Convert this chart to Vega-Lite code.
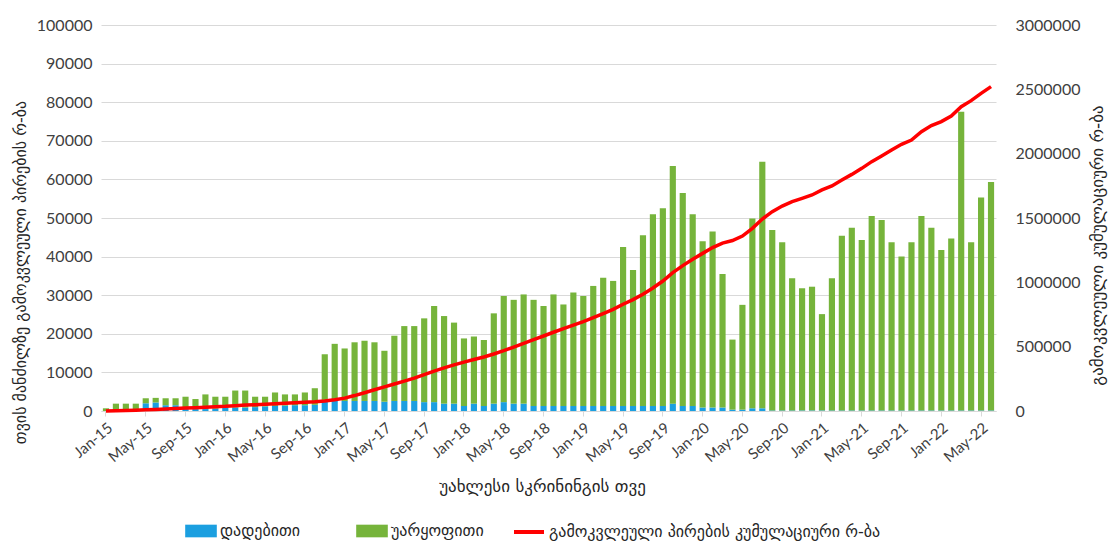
{
  "$schema": "https://vega.github.io/schema/vega-lite/v6.json",
  "width": 895,
  "height": 386,
  "autosize": {"type": "none"},
  "padding": {"left": 101, "top": 25, "right": 114, "bottom": 130},
  "background": "white",
  "config": {
    "view": {"stroke": null},
    "font": "Lato",
    "axis": {"labelFont": "Lato", "labelColor": "#404040", "titleColor": "#262626", "titleFont": "DejaVu Sans", "titleFontWeight": "normal"}
  },
  "data": {"values": [
    {"m":"Jan-15","pos":0,"neg":700,"cum":700},
    {"m":"Feb-15","pos":0,"neg":1900,"cum":2600},
    {"m":"Mar-15","pos":0,"neg":1900,"cum":4500},
    {"m":"Apr-15","pos":0,"neg":1900,"cum":6500},
    {"m":"May-15","pos":2000,"neg":1300,"cum":9500},
    {"m":"Jun-15","pos":2200,"neg":1200,"cum":12500},
    {"m":"Jul-15","pos":1500,"neg":1800,"cum":15500},
    {"m":"Aug-15","pos":1500,"neg":1800,"cum":19000},
    {"m":"Sep-15","pos":800,"neg":2900,"cum":23000},
    {"m":"Oct-15","pos":500,"neg":2600,"cum":26000},
    {"m":"Nov-15","pos":500,"neg":3800,"cum":30000},
    {"m":"Dec-15","pos":600,"neg":3100,"cum":33000},
    {"m":"Jan-16","pos":800,"neg":2900,"cum":36000},
    {"m":"Feb-16","pos":900,"neg":4400,"cum":41000},
    {"m":"Mar-16","pos":900,"neg":4400,"cum":46000},
    {"m":"Apr-16","pos":1000,"neg":2700,"cum":49000},
    {"m":"May-16","pos":1200,"neg":2500,"cum":52000},
    {"m":"Jun-16","pos":1300,"neg":3500,"cum":56000},
    {"m":"Jul-16","pos":1400,"neg":2900,"cum":60000},
    {"m":"Aug-16","pos":1500,"neg":2800,"cum":64000},
    {"m":"Sep-16","pos":1500,"neg":3300,"cum":68000},
    {"m":"Oct-16","pos":1600,"neg":4300,"cum":72000},
    {"m":"Nov-16","pos":2500,"neg":12200,"cum":78000},
    {"m":"Dec-16","pos":2600,"neg":14800,"cum":88000},
    {"m":"Jan-17","pos":2600,"neg":13600,"cum":100000},
    {"m":"Feb-17","pos":2600,"neg":15200,"cum":120000},
    {"m":"Mar-17","pos":2600,"neg":15600,"cum":142000},
    {"m":"Apr-17","pos":2600,"neg":15200,"cum":165000},
    {"m":"May-17","pos":2400,"neg":13200,"cum":188000},
    {"m":"Jun-17","pos":2600,"neg":16900,"cum":210000},
    {"m":"Jul-17","pos":2600,"neg":19400,"cum":232000},
    {"m":"Aug-17","pos":2600,"neg":19400,"cum":255000},
    {"m":"Sep-17","pos":2300,"neg":21700,"cum":282000},
    {"m":"Oct-17","pos":2300,"neg":24900,"cum":310000},
    {"m":"Nov-17","pos":1900,"neg":22700,"cum":335000},
    {"m":"Dec-17","pos":1900,"neg":21000,"cum":358000},
    {"m":"Jan-18","pos":1300,"neg":17500,"cum":380000},
    {"m":"Feb-18","pos":1900,"neg":17400,"cum":400000},
    {"m":"Mar-18","pos":1300,"neg":17100,"cum":420000},
    {"m":"Apr-18","pos":1900,"neg":23400,"cum":443000},
    {"m":"May-18","pos":2300,"neg":27500,"cum":469000},
    {"m":"Jun-18","pos":1900,"neg":26900,"cum":497000},
    {"m":"Jul-18","pos":1900,"neg":28300,"cum":525000},
    {"m":"Aug-18","pos":1300,"neg":27500,"cum":555000},
    {"m":"Sep-18","pos":1300,"neg":25900,"cum":583000},
    {"m":"Oct-18","pos":1300,"neg":28900,"cum":612000},
    {"m":"Nov-18","pos":1300,"neg":26300,"cum":640000},
    {"m":"Dec-18","pos":1300,"neg":29400,"cum":668000},
    {"m":"Jan-19","pos":1300,"neg":28500,"cum":694000},
    {"m":"Feb-19","pos":1300,"neg":31100,"cum":725000},
    {"m":"Mar-19","pos":1300,"neg":33200,"cum":757000},
    {"m":"Apr-19","pos":1300,"neg":32400,"cum":790000},
    {"m":"May-19","pos":1300,"neg":41200,"cum":830000},
    {"m":"Jun-19","pos":1300,"neg":35200,"cum":866000},
    {"m":"Jul-19","pos":1300,"neg":44200,"cum":908000},
    {"m":"Aug-19","pos":1300,"neg":49700,"cum":956000},
    {"m":"Sep-19","pos":1300,"neg":51200,"cum":1010000},
    {"m":"Oct-19","pos":1900,"neg":61600,"cum":1075000},
    {"m":"Nov-19","pos":1300,"neg":55200,"cum":1130000},
    {"m":"Dec-19","pos":1300,"neg":49700,"cum":1180000},
    {"m":"Jan-20","pos":900,"neg":43100,"cum":1225000},
    {"m":"Feb-20","pos":900,"neg":45600,"cum":1270000},
    {"m":"Mar-20","pos":900,"neg":34600,"cum":1305000},
    {"m":"Apr-20","pos":350,"neg":18150,"cum":1325000},
    {"m":"May-20","pos":350,"neg":27150,"cum":1360000},
    {"m":"Jun-20","pos":700,"neg":49200,"cum":1420000},
    {"m":"Jul-20","pos":700,"neg":63900,"cum":1492000},
    {"m":"Aug-20","pos":150,"neg":46750,"cum":1549000},
    {"m":"Sep-20","pos":150,"neg":43550,"cum":1593000},
    {"m":"Oct-20","pos":150,"neg":34250,"cum":1627000},
    {"m":"Nov-20","pos":150,"neg":31650,"cum":1653000},
    {"m":"Dec-20","pos":150,"neg":32050,"cum":1679000},
    {"m":"Jan-21","pos":150,"neg":24950,"cum":1718000},
    {"m":"Feb-21","pos":150,"neg":34250,"cum":1749000},
    {"m":"Mar-21","pos":150,"neg":45250,"cum":1795000},
    {"m":"Apr-21","pos":150,"neg":47350,"cum":1839000},
    {"m":"May-21","pos":150,"neg":44150,"cum":1886000},
    {"m":"Jun-21","pos":150,"neg":50350,"cum":1938000},
    {"m":"Jul-21","pos":150,"neg":49350,"cum":1982000},
    {"m":"Aug-21","pos":150,"neg":43550,"cum":2028000},
    {"m":"Sep-21","pos":150,"neg":39850,"cum":2073000},
    {"m":"Oct-21","pos":150,"neg":43550,"cum":2106000},
    {"m":"Nov-21","pos":150,"neg":50350,"cum":2171000},
    {"m":"Dec-21","pos":150,"neg":47350,"cum":2218000},
    {"m":"Jan-22","pos":150,"neg":41550,"cum":2249000},
    {"m":"Feb-22","pos":150,"neg":44550,"cum":2293000},
    {"m":"Mar-22","pos":150,"neg":77350,"cum":2365000},
    {"m":"Apr-22","pos":150,"neg":43550,"cum":2412000},
    {"m":"May-22","pos":150,"neg":55150,"cum":2469000},
    {"m":"Jun-22","pos":150,"neg":59150,"cum":2521000}
  ]},
  "encoding": {
    "x": {
      "field": "m", "type": "ordinal", "sort": null,
      "scale": {"paddingInner": 0.38, "paddingOuter": 0.19},
      "axis": {
        "values": ["Jan-15","May-15","Sep-15","Jan-16","May-16","Sep-16","Jan-17","May-17","Sep-17","Jan-18","May-18","Sep-18","Jan-19","May-19","Sep-19","Jan-20","May-20","Sep-20","Jan-21","May-21","Sep-21","Jan-22","May-22"],
        "labelAngle": -40, "labelFontSize": 15, "labelPadding": 4,
        "domainColor": "#d9d9d9", "tickColor": "#d9d9d9", "tickSize": 5,
        "title": "უახლესი სკრინინგის თვე", "titleFontSize": 17,
        "titleY": 67, "titleBaseline": "top", "titleX": 441
      }
    }
  },
  "layer": [
    {
      "transform": [{"fold": ["pos", "neg"], "as": ["k", "v"]}],
      "mark": {"type": "bar"},
      "encoding": {
        "y": {
          "field": "v", "type": "quantitative", "stack": "zero",
          "scale": {"domain": [0, 100000], "nice": false},
          "axis": {
            "values": [0,10000,20000,30000,40000,50000,60000,70000,80000,90000,100000],
            "format": "d", "grid": true, "gridColor": "#d9d9d9", "domain": false, "ticks": false,
            "labelFontSize": 16, "labelPadding": 9,
            "title": "თვის მანძილზე გამოკვლეული პირების რ-ბა", "titleFontSize": 16,
            "titleAngle": 270, "titleBaseline": "middle", "titleX": -81, "titleY": 247, "titleLimit": 500
          }
        },
        "fill": {
          "field": "k", "type": "nominal", "sort": ["pos", "neg"],
          "scale": {"domain": ["pos", "neg"], "range": ["#1b9fe0", "#76b43b"]},
          "legend": {
            "orient": "none", "legendX": 84, "legendY": 490, "direction": "horizontal",
            "title": null, "labelFont": "DejaVu Sans", "labelFontSize": 16, "labelColor": "#262626",
            "symbolType": "M-1,-0.4H1V0.4H-1Z", "symbolSize": 1000, "symbolStrokeWidth": 0,
            "columnPadding": 55, "labelOffset": 3, "labelLimit": 500,
            "labelExpr": "datum.label == 'pos' ? 'დადებითი' : 'უარყოფითი'"
          }
        }
      }
    },
    {
      "mark": {"type": "line", "strokeWidth": 3.5},
      "encoding": {
        "y": {
          "field": "cum", "type": "quantitative",
          "scale": {"domain": [0, 3000000], "nice": false},
          "axis": {
            "orient": "right",
            "values": [0,500000,1000000,1500000,2000000,2500000,3000000],
            "format": "d", "grid": false, "domain": false, "ticks": false,
            "labelFontSize": 16, "labelPadding": 19,
            "title": "გამოკვლეული კუმულაციური რ-ბა", "titleFontSize": 17,
            "titleAngle": 270, "titleBaseline": "middle", "titleX": 101, "titleY": 220, "titleLimit": 500
          }
        },
        "stroke": {
          "datum": "cum",
          "scale": {"domain": ["cum"], "range": ["#ff0000"]},
          "legend": {
            "orient": "none", "legendX": 411, "legendY": 490, "direction": "horizontal",
            "title": null, "labelFont": "DejaVu Sans", "labelFontSize": 16, "labelColor": "#262626",
            "symbolType": "stroke", "symbolSize": 900, "symbolStrokeWidth": 4, "labelOffset": 3, "labelLimit": 600,
            "labelExpr": "'გამოკვლეული პირების კუმულაციური რ-ბა'"
          }
        }
      }
    }
  ],
  "resolve": {"scale": {"y": "independent"}}
}
